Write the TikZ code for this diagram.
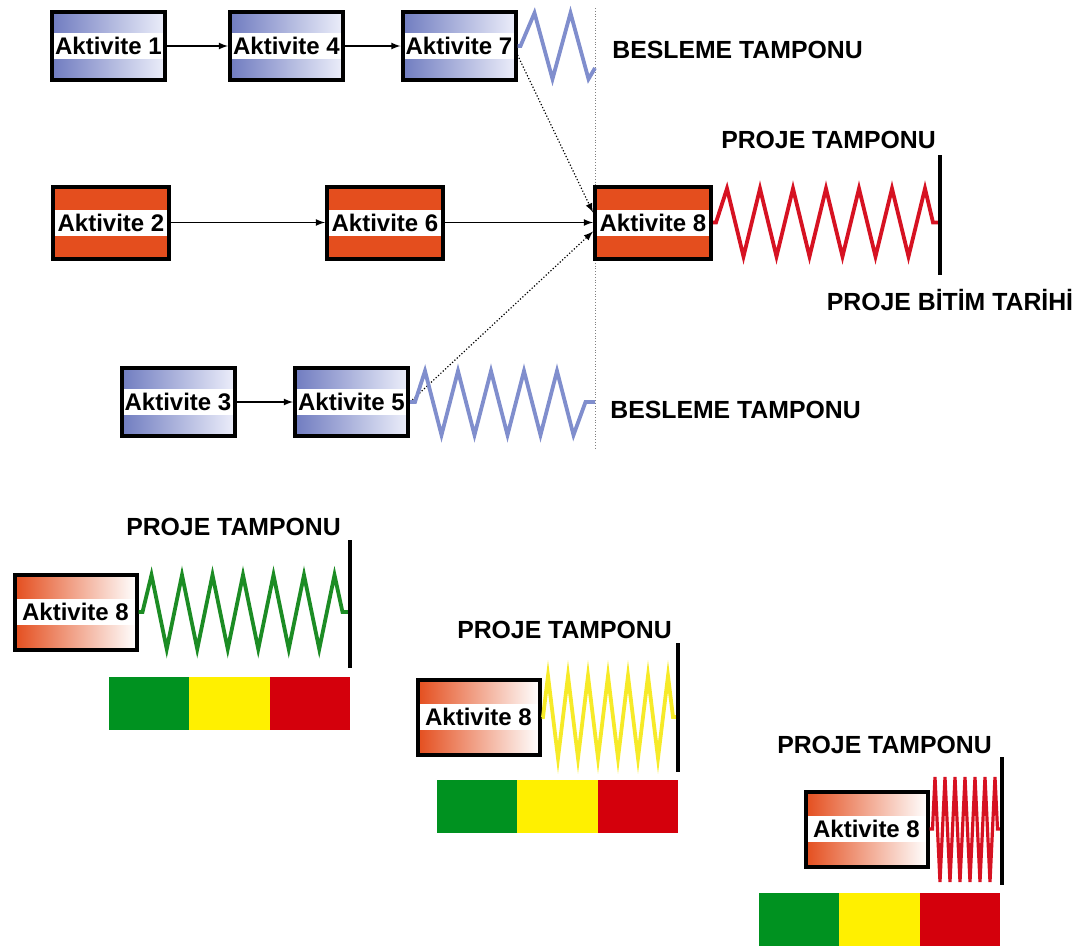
\documentclass[tikz,border=0pt]{standalone}
\usepackage{fontspec}
\setmainfont{Liberation Sans}
\usepackage{tikz}

\definecolor{maviK}{RGB}{112,124,192}
\definecolor{maviA}{RGB}{236,238,250}
\definecolor{turuncu}{RGB}{228,78,30}
\definecolor{maviyay}{RGB}{128,142,205}
\definecolor{kirmiziyay}{RGB}{214,18,34}
\definecolor{yesilyay}{RGB}{28,140,36}
\definecolor{sariyay}{RGB}{246,234,40}
\definecolor{yesil}{RGB}{0,146,32}
\definecolor{sari}{RGB}{255,240,0}
\definecolor{kirmizi}{RGB}{212,0,12}

\newcommand{\kutufont}{\fontsize{12}{14}\selectfont\bfseries}
\newcommand{\etiketfont}{\fontsize{12.4}{15}\selectfont\bfseries}

\begin{document}
\begin{tikzpicture}[x=0.5pt,y=-0.5pt]
      \tikzstyle{bant}=[path picture={\fill[white] ([yshift=-6.5pt]path picture bounding box.west) rectangle ([yshift=6.5pt]path picture bounding box.east);}]
      \tikzstyle{mavikutu}=[draw, line width=2pt, minimum width=56.5pt, minimum height=34pt, inner sep=0pt, left color=maviK, right color=maviA, bant, font=\kutufont]
      \tikzstyle{kirmizikutu}=[draw, line width=2pt, minimum width=58pt, minimum height=36pt, inner sep=0pt, fill=turuncu, bant, font=\kutufont]
      \tikzstyle{gecikutu}=[draw, line width=2pt, minimum width=61pt, minimum height=37.5pt, inner sep=0pt, left color=turuncu, right color=white, bant, font=\kutufont]
      \tikzstyle{etiket}=[inner sep=0pt, font=\etiketfont]
      \tikzstyle{fleche}=[->,>=latex,line width=0.6pt]
      \tikzstyle{yay}=[line width=1.9pt]
      \tikzstyle{bitis}=[line width=2pt]
      \tikzstyle{sinir}=[gray, densely dotted, thin]

      \useasboundingbox (0,0) rectangle (1084,949);

      \draw[sinir] (595,8) -- (595,448);

      \node[mavikutu] (A1) at (108.5,46) {Aktivite 1};
      \node[mavikutu] (A4) at (286.5,46) {Aktivite 4};
      \node[mavikutu] (A7) at (459,46) {Aktivite 7};
      \node[kirmizikutu] (A2) at (111,222.5) {Aktivite 2};
      \node[kirmizikutu] (A6) at (385,222.5) {Aktivite 6};
      \node[kirmizikutu] (A8) at (653,222.5) {Aktivite 8};
      \node[mavikutu] (A3) at (178,402) {Aktivite 3};
      \node[mavikutu] (A5) at (351.5,402) {Aktivite 5};

      \node[etiket, anchor=west] (bes1) at (612,50) {BESLEME TAMPONU};
      \node[etiket, anchor=west] (bes2) at (610,410) {BESLEME TAMPONU};
      \node[etiket] (pt0) at (828.5,140) {PROJE TAMPONU};
      \node[etiket] (pbt) at (950,300) {PROJE BİTİM TARİHİ};

      \coordinate (t1) at (595,68);
      \coordinate (t2) at (940,222.5);
      \coordinate (t3) at (595,402);

      \draw[fleche] (A1) -- (A4);
      \draw[fleche] (A4) -- (A7);
      \draw[fleche] (A2) -- (A6);
      \draw[fleche] (A6) -- (A8);
      \draw[fleche] (A3) -- (A5);
      \draw[fleche, densely dotted] ([yshift=-4.5pt]A7.east) -- ([yshift=5pt]A8.west);
      \draw[fleche, densely dotted] (A5.east) -- ([yshift=-4.5pt]A8.west);

      \draw[yay, maviyay] (A7.east) -- ++(3,0) -- ++(14,-33) -- ++(18,66) -- ++(18,-66) -- ++(18,66) -- (t1);
      \draw[yay, kirmiziyay] (A8.east) -- ++(3,0) -- ++(11,-34) \foreach \k in {1,...,6} { -- ++(16.5,68) -- ++(16.5,-68)} -- ++(8,34) -- (t2);
      \draw[yay, maviyay] (A5.east) -- ++(5,0) -- ++(10,-31) \foreach \k in {1,...,4} { -- ++(16.5,64) -- ++(16.5,-64)} -- ++(16.5,64) -- ++(12,-33) -- (t3);
      \draw[bitis] (940,155) -- (940,275);

      % tampon durumlari
      \node[gecikutu] (B1) at (75.5,612) {Aktivite 8};
      \node[gecikutu] (B2) at (478.5,717) {Aktivite 8};
      \node[gecikutu] (B3) at (866.5,829) {Aktivite 8};
      \node[etiket] (pt1) at (233.5,527) {PROJE TAMPONU};
      \node[etiket] (pt2) at (564.5,630) {PROJE TAMPONU};
      \node[etiket] (pt3) at (884.5,745) {PROJE TAMPONU};

      \coordinate (t4) at (350,612);
      \coordinate (t5) at (678,717);
      \coordinate (t6) at (1002,829);

      \draw[yay, yesilyay] (B1.east) -- ++(4,0) -- ++(9,-37) \foreach \k in {1,...,6} { -- ++(15.25,74) -- ++(15.25,-74)} -- ++(8,37) -- (t4);
      \draw[yay, sariyay] (B2.east) -- ++(1.5,0) -- ++(5,-41) \foreach \k in {1,...,6} { -- ++(10,82) -- ++(10,-82)} -- ++(5,41) -- (t5);
      \draw[yay, kirmiziyay, line width=1.6pt] (B3.east) -- ++(3,0) -- ++(2.5,-52) \foreach \k in {1,...,6} { -- ++(5,105) -- ++(5,-105)} -- ++(2.5,52) -- (t6);

      \draw[bitis] (350,540) -- (350,668);
      \draw[bitis] (678,643) -- (678,772);
      \draw[bitis] (1002,757) -- (1002,885);

      \fill[yesil] (109,677) rectangle (189.3,730);
      \fill[sari] (189.3,677) rectangle (269.7,730);
      \fill[kirmizi] (269.7,677) rectangle (350,730);
      \fill[yesil] (437,780) rectangle (517.3,833);
      \fill[sari] (517.3,780) rectangle (597.7,833);
      \fill[kirmizi] (597.7,780) rectangle (678,833);
      \fill[yesil] (759,893) rectangle (839.3,946);
      \fill[sari] (839.3,893) rectangle (919.7,946);
      \fill[kirmizi] (919.7,893) rectangle (1000,946);

    \end{tikzpicture}
\end{document}
